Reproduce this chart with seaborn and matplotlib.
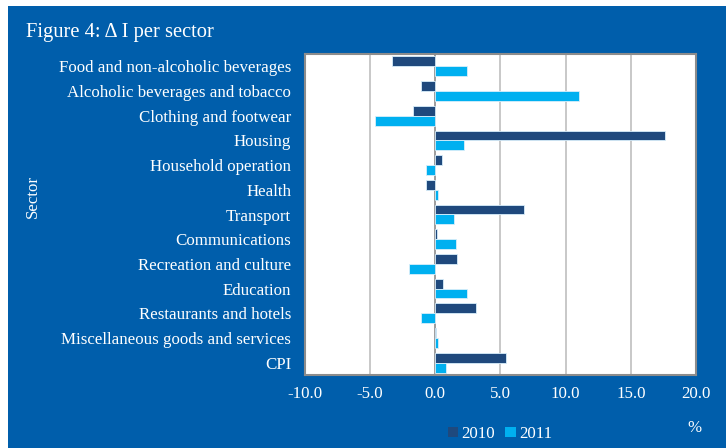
import pandas as pd
import matplotlib.pyplot as plt
import seaborn as sns
from matplotlib.patches import Rectangle, Patch

sectors = [
    "Food and non-alcoholic beverages",
    "Alcoholic beverages and tobacco",
    "Clothing and footwear",
    "Housing",
    "Household operation",
    "Health",
    "Transport",
    "Communications",
    "Recreation and culture",
    "Education",
    "Restaurants and hotels",
    "Miscellaneous goods and services",
    "CPI",
]
values_2010 = [-3.3, -1.1, -1.7, 17.6, 0.5, -0.7, 6.8, 0.1, 1.7, 0.6, 3.1, 0.05, 5.4]
values_2011 = [2.4, 11.0, -4.6, 2.2, -0.7, 0.2, 1.4, 1.6, -2.0, 2.4, -1.1, 0.2, 0.8]
years = ["2010", "2011"]
xticks = [-10, -5, 0, 5, 10, 15, 20]

bg = "#005EAB"
c2010 = "#1F497D"
c2011 = "#00B0F0"
fs = 12.2

df = pd.DataFrame({
    "Sector": sectors * 2,
    "Year": [years[0]] * len(sectors) + [years[1]] * len(sectors),
    "Value": values_2010 + values_2011,
})

sns.set_style("white")
plt.rcParams["font.family"] = ["Liberation Serif", "DejaVu Serif"]

fig = plt.figure(figsize=(7.26, 4.48), dpi=100)
fig.patch.set_facecolor("white")
# blue panel behind everything (thin white strip left and top)
fig.add_artist(Rectangle((8 / 726, 0), 1, 1 - 6 / 448, transform=fig.transFigure,
                         facecolor=bg, edgecolor="none", zorder=-10))

ax = fig.add_axes([305 / 726, 1 - 375 / 448, 391 / 726, 321 / 448])
sns.barplot(data=df, y="Sector", x="Value", hue="Year", orient="h",
            palette=[c2010, c2011], saturation=1, width=0.8, edgecolor="#d8eefa",
            linewidth=0.6, ax=ax, legend=False)

ax.set_xlim(-10, 20)
ax.set_xticks(xticks)
ax.set_xticklabels([f"{t:.1f}" for t in xticks], color="white", fontsize=fs)
ax.tick_params(axis="y", colors="white", labelsize=fs, length=0, pad=10)
ax.tick_params(axis="x", length=0, pad=8)
ax.set_ylabel("")
ax.set_xlabel("")
for t in xticks[1:-1]:
    ax.axvline(t, color="#8c8c8c" if t == 0 else "#bfbfbf", lw=1.2, zorder=0)
for s in ax.spines.values():
    s.set_color("#8c8c8c")
    s.set_linewidth(1.5)

fig.text(26 / 726, 1 - 33 / 448, "Figure 4: \u0394 I per sector", color="white",
         fontsize=14.8, va="center", ha="left")
fig.text(33 / 726, 1 - 196 / 448, "Sector", color="white", fontsize=fs,
         rotation=90, va="center", ha="center")
fig.text(694 / 726, 1 - 428 / 448, "%", color="white", fontsize=fs,
         va="center", ha="center")

handles = [Patch(facecolor=c2010, edgecolor="none"), Patch(facecolor=c2011, edgecolor="none")]
fig.legend(handles, years, loc="center", bbox_to_anchor=(500 / 726, 1 - 434 / 448),
           ncol=2, frameon=False, fontsize=fs, labelcolor="white",
           handlelength=0.6, handleheight=0.6, handletextpad=0.2, columnspacing=0.6)

fig.savefig("out.png", dpi=100, facecolor=fig.get_facecolor())
